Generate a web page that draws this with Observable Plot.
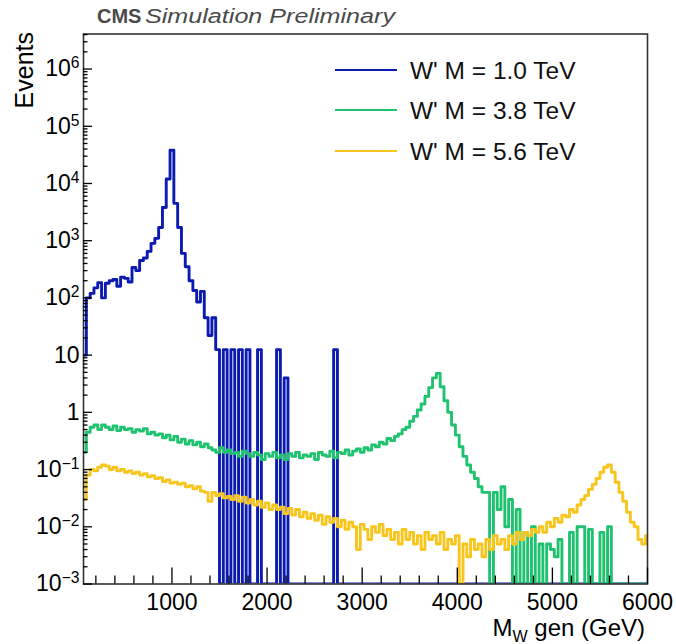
<!DOCTYPE html>
<html><head><meta charset="utf-8">
<script src="https://cdn.jsdelivr.net/npm/d3@7"></script>
<script src="https://cdn.jsdelivr.net/npm/@observablehq/plot@0.6"></script>
<style>body{margin:0;background:#fff;} svg{display:block}</style>
</head><body><div id="chart"></div>
<script>
// Histogram binning (GeV)
const binStart = 60;
const binWidth = 40;

// Events per bin, W' M = 1.0 TeV
const blue = [
 10,100,120,150,185,100,180,200,210,160,
 230,220,190,340,300,450,500,650,900,1100,
 1700,3800,12000,38000,4500,1700,600,350,200,135,
 85,130,45,22,45,12.5,0,12.5,0,12.5,
 0,12.5,0,12.5,0,0,12.5,0,0,0,
 0,12.5,0,4,0,0,0,0,0,0,
 0,0,0,0,0,0,12.5,0,0,0,
 0,0,0,0,0,0,0,0,0,0,
 0,0,0,0,0,0,0,0,0,0,
 0,0,0,0,0,0,0,0,0,0,
 0,0,0,0,0,0,0,0,0,0,
 0,0,0,0,0,0,0,0,0,0,
 0,0,0,0,0,0,0,0,0,0,
 0,0,0,0,0,0,0,0,0,0,
 0,0,0,0,0,0,0,0,0
];
// Events per bin, W' M = 3.8 TeV
const green = [
 0.2,0.45,0.55,0.6,0.5,0.6,0.55,0.5,0.58,0.48,
 0.55,0.5,0.52,0.45,0.5,0.47,0.52,0.42,0.45,0.4,
 0.42,0.36,0.4,0.33,0.38,0.3,0.34,0.28,0.32,0.27,
 0.3,0.25,0.28,0.24,0.22,0.2,0.24,0.2,0.22,0.19,
 0.2,0.17,0.21,0.19,0.17,0.2,0.18,0.15,0.19,0.17,
 0.2,0.16,0.18,0.15,0.19,0.17,0.2,0.16,0.18,0.17,
 0.19,0.15,0.2,0.18,0.17,0.21,0.16,0.2,0.19,0.22,
 0.18,0.21,0.23,0.2,0.24,0.22,0.27,0.25,0.3,0.28,
 0.35,0.32,0.38,0.42,0.5,0.55,0.7,0.85,1.1,1.4,
 1.9,2.7,4.0,4.8,2.8,1.6,1.0,0.6,0.4,0.25,
 0.17,0.12,0.09,0.07,0.05,0.04,0.04,0,0.04,0.02,
 0.05,0.01,0.03,0,0.02,0,0.008,0,0.01,0,
 0.005,0,0.005,0.004,0.003,0.006,0,0,0.008,0,
 0.01,0.01,0,0.009,0,0,0.008,0,0.01,0,
 0,0,0,0,0,0,0,0,0
];
// Events per bin, W' M = 5.6 TeV
const yellow = [
 0.03,0.08,0.1,0.095,0.11,0.12,0.115,0.1,0.11,0.095,
 0.1,0.09,0.095,0.085,0.09,0.08,0.085,0.075,0.078,0.07,
 0.072,0.062,0.066,0.058,0.06,0.055,0.058,0.05,0.052,0.046,
 0.05,0.042,0.04,0.028,0.04,0.035,0.038,0.032,0.034,0.03,
 0.035,0.028,0.033,0.026,0.03,0.024,0.028,0.022,0.026,0.02,
 0.024,0.02,0.022,0.017,0.021,0.016,0.02,0.015,0.018,0.014,
 0.017,0.013,0.016,0.011,0.015,0.012,0.014,0.01,0.013,0.009,
 0.012,0.01,0.004,0.011,0.009,0.006,0.01,0.008,0.011,0.007,
 0.009,0.006,0.008,0.005,0.009,0.006,0.008,0.005,0.007,0.004,
 0.008,0.006,0.007,0.005,0.008,0.004,0.006,0.005,0.007,0,
 0.005,0.003,0.006,0.004,0.005,0.003,0.006,0.004,0.007,0.005,
 0.006,0.004,0.007,0.005,0.008,0.006,0.008,0.007,0.009,0.008,
 0.01,0.008,0.012,0.01,0.014,0.012,0.016,0.015,0.02,0.018,
 0.024,0.03,0.035,0.045,0.055,0.07,0.09,0.11,0.12,0.09,
 0.06,0.04,0.028,0.018,0.012,0.01,0.006,0.005,0.007
];

const seriesNames = ["W' M = 1.0 TeV", "W' M = 3.8 TeV", "W' M = 5.6 TeV"];
const seriesColors = ["#0b1bb2", "#1fc26f", "#f7c51c"];
const seriesValues = [blue, green, yellow];

const yMajor = [1e-3, 1e-2, 1e-1, 1, 10, 1e2, 1e3, 1e4, 1e5, 1e6];
const yLabels = ["10^−3", "10^−2", "10^−1", "1", "10", "10^2", "10^3", "10^4", "10^5", "10^6"];
const xMajor = [1000, 2000, 3000, 4000, 5000, 6000];
const xLabels = ["1000", "2000", "3000", "4000", "5000", "6000"];

const xDomain = [70, 6000];
const yDomain = [1e-3, 4.1e6];

// minor ticks
const yMinor = [];
for (let e = -3; e <= 6; e++) for (let k = 2; k <= 9; k++) { const v = k * Math.pow(10, e); if (v <= yDomain[1]) yMinor.push(v); }
const xMinor = d3.range(200, 6000, 200).filter(v => v % 1000 !== 0);

// histogram rows (step outline); empty bins drawn on the axis floor
function rows(vals, name) {
  const r = vals.map((v, i) => ({x: binStart + i * binWidth, y: v > 0 ? v : yDomain[0], s: name}));
  r.push({x: binStart + vals.length * binWidth, y: r[r.length - 1].y, s: name});
  return r;
}

const W = 676, H = 644, mL = 83, mR = 29, mT = 33.5, mB = 60.5;
const frameW = W - mL - mR, frameH = H - mT - mB;
const font = "'Liberation Sans', Arial, Helvetica, sans-serif";

const lineMarks = seriesValues.map((vals, k) =>
  Plot.lineY(rows(vals, seriesNames[k]), {x: "x", y: "y", curve: "step-after", stroke: seriesColors[k], strokeWidth: 2.9, clip: true})
);

const plot = Plot.plot({
  width: W, height: H,
  marginLeft: mL, marginRight: mR, marginTop: mT, marginBottom: mB,
  style: {fontFamily: font, background: "#fff", color: "#000"},
  x: {domain: xDomain},
  y: {type: "log", domain: yDomain},
  marks: [
    ...lineMarks,
    Plot.frame({stroke: "#333", strokeWidth: 1.6}),
    Plot.tickY(yMinor, {y: d => d, insetRight: frameW - 4.5, stroke: "#000", strokeWidth: 1.3}),
    Plot.tickY(yMajor, {y: d => d, insetRight: frameW - 9, stroke: "#000", strokeWidth: 1.3}),
    Plot.tickX(xMinor, {x: d => d, insetTop: frameH - 8, stroke: "#000", strokeWidth: 1.3}),
    Plot.tickX(xMajor, {x: d => d, insetTop: frameH - 16, stroke: "#000", strokeWidth: 1.3}),
    Plot.axisY({ticks: yMajor, tickSize: 0, tickPadding: 4, fontSize: 23, label: null,
      tickFormat: d => yLabels[yMajor.indexOf(d)]}),
    Plot.axisX({ticks: xMajor, tickSize: 0, tickPadding: 10, fontSize: 23, label: null,
      tickFormat: d => xLabels[xMajor.indexOf(d)]})
  ]
});

const svg = d3.select(plot);
svg.attr("font-family", font);

// superscripts on y tick labels
svg.selectAll('g[aria-label="y-axis tick label"] text').each(function () {
  const t = d3.select(this);
  const s = t.text();
  if (s.includes("^")) {
    const [b, e] = s.split("^");
    t.text(null);
    t.append("tspan").text(b);
    t.append("tspan").attr("dy", "-0.52em").attr("font-size", "0.68em").text(e);
  }
});

// title
svg.append("text").attr("x", 97).attr("y", 23).attr("text-anchor", "start").attr("font-size", 20)
  .attr("font-weight", "bold").attr("fill", "#4a4a4a").text("CMS");
svg.append("text").attr("x", 145).attr("y", 23).attr("text-anchor", "start").attr("font-size", 20)
  .attr("font-style", "italic").attr("fill", "#4a4a4a")
  .attr("textLength", 250).attr("lengthAdjust", "spacingAndGlyphs").text("Simulation Preliminary");

// y label
svg.append("text").attr("transform", "translate(33,32) rotate(-90)").attr("text-anchor", "end")
  .attr("font-size", 25).attr("fill", "#000").text("Events");

// x label
const xl = svg.append("text").attr("x", 645).attr("y", 636).attr("text-anchor", "end").attr("font-size", 24).attr("fill", "#000");
xl.append("tspan").text("M");
xl.append("tspan").attr("font-size", 16).attr("dy", 6).text("W");
xl.append("tspan").attr("dy", -6).text(" gen (GeV)");

// legend
const legY = [70, 110, 151];
seriesNames.forEach((n, k) => {
  svg.append("line").attr("x1", 335).attr("x2", 397).attr("y1", legY[k]).attr("y2", legY[k])
    .attr("stroke", seriesColors[k]).attr("stroke-width", 2.2);
  svg.append("text").attr("x", 410).attr("y", legY[k]).attr("dy", "0.36em").attr("text-anchor", "start")
    .attr("font-size", 24.5).attr("fill", "#111").text(n);
});

document.getElementById("chart").appendChild(plot);
</script>
</body></html>
